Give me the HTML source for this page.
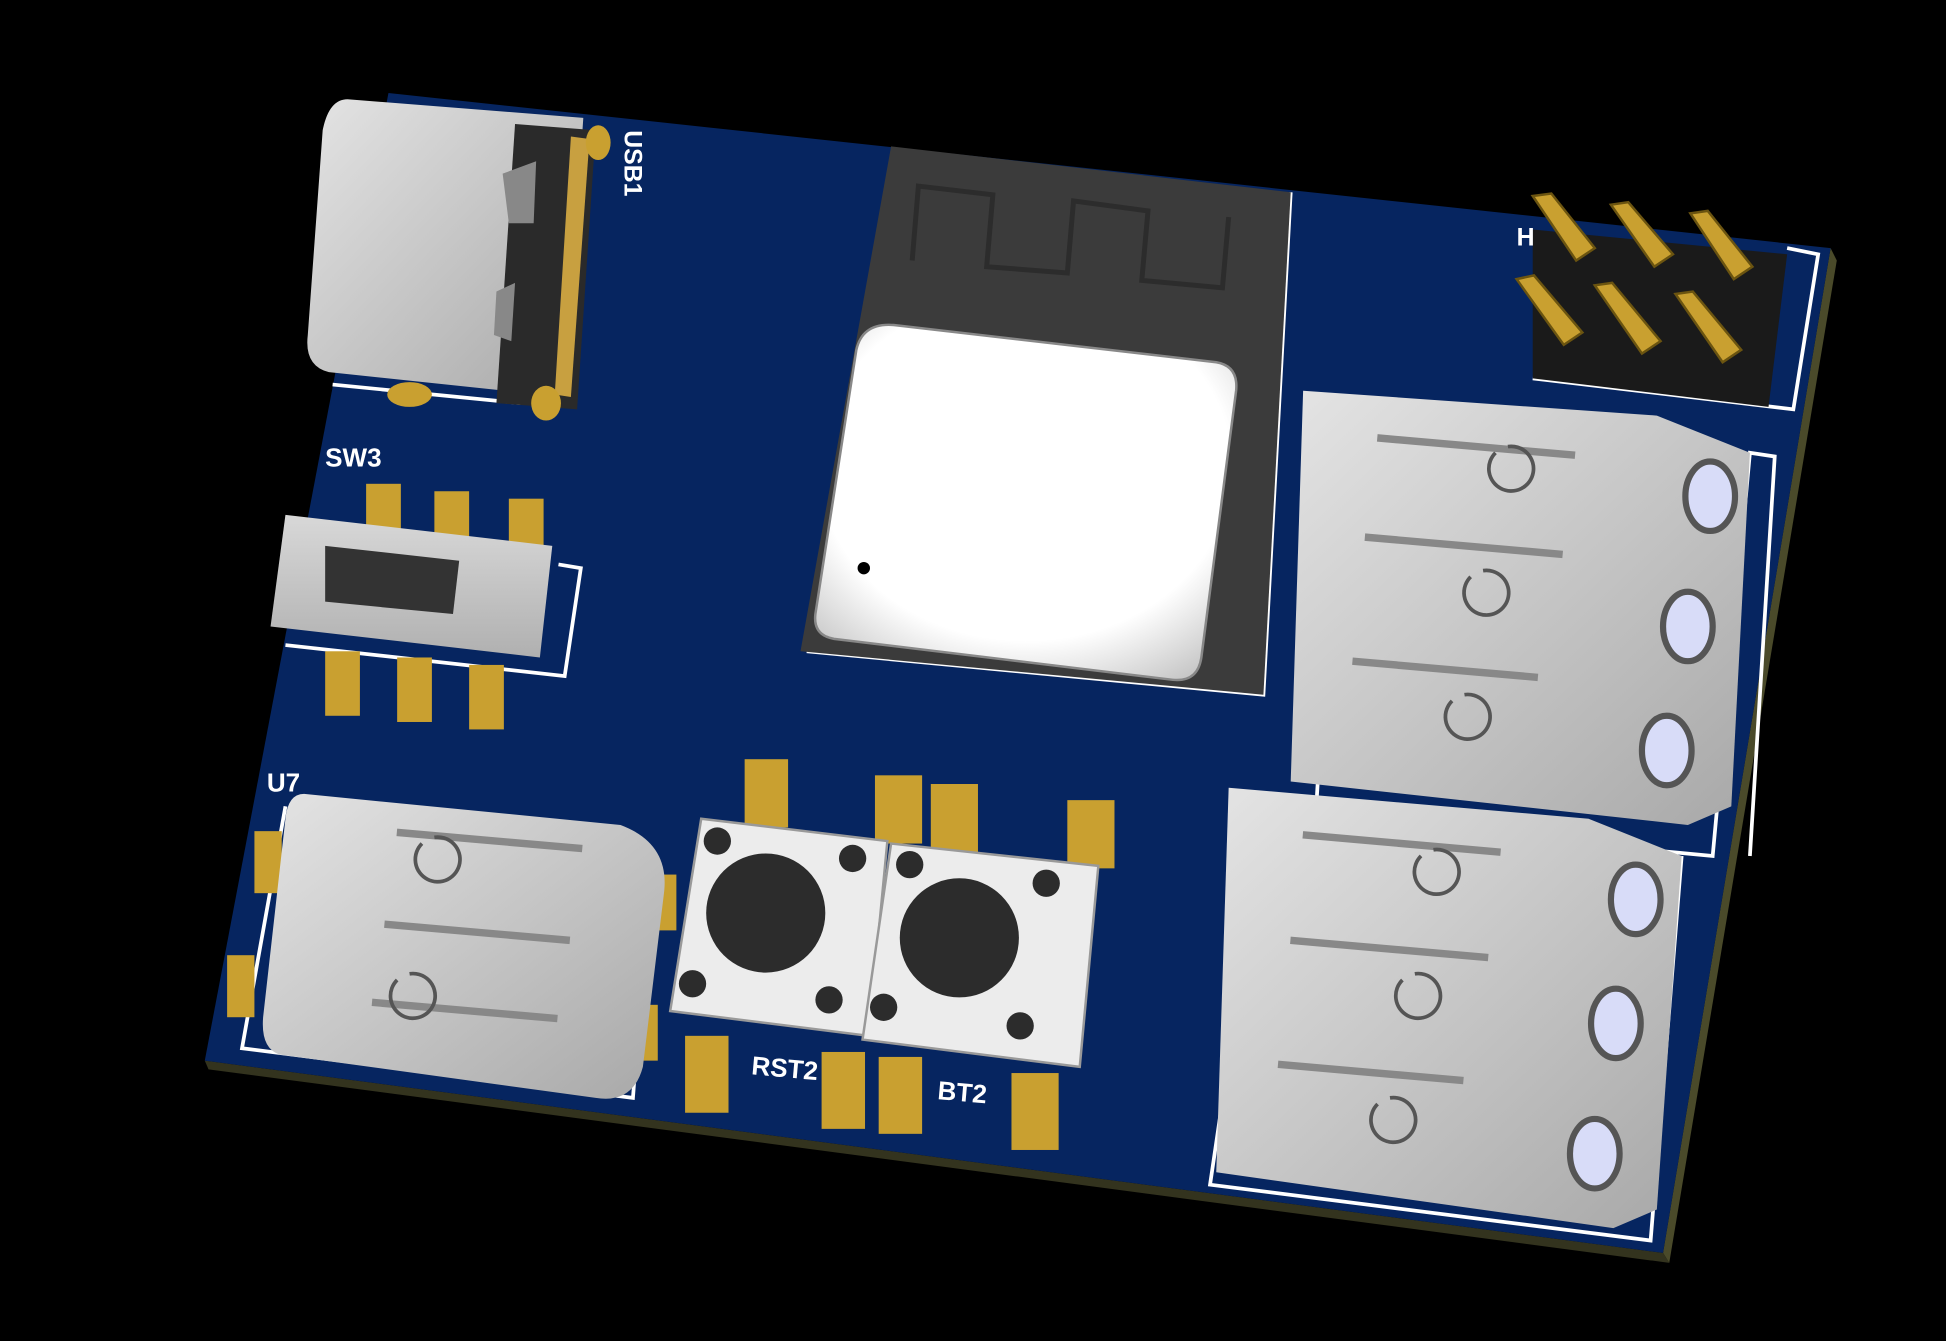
<!DOCTYPE html>
<html><head><meta charset="utf-8"><style>
html,body{margin:0;padding:0;background:#000;width:1946px;height:1341px;overflow:hidden}
svg{display:block}
text{font-family:"Liberation Sans",sans-serif;font-weight:bold;fill:#fff}
</style></head><body>
<svg width="1946" height="1341" viewBox="0 0 1568 1081" preserveAspectRatio="none">
<defs>
<linearGradient id="g1" x1="0" y1="0" x2="1" y2="1"><stop offset="0" stop-color="#e4e4e4"/><stop offset="1" stop-color="#a8a8a8"/></linearGradient>
<linearGradient id="g2" x1="0" y1="0" x2="0" y2="1"><stop offset="0" stop-color="#d8d8d8"/><stop offset="1" stop-color="#b0b0b0"/></linearGradient>
<radialGradient id="sh" cx="0.5" cy="0.4" r="0.7"><stop offset="0.7" stop-color="#ffffff"/><stop offset="1" stop-color="#c8c8c8"/></radialGradient>
</defs>
<rect width="1568" height="1081" fill="#000"/>
<!-- board edge -->
<polygon points="1475,200 1480,210 1345,1018 1340,1010" fill="#4a4a2a"/>
<polygon points="165,855 1340,1010 1345,1018 168,862" fill="#33331e"/>
<!-- board -->
<polygon points="313,75 1475,200 1340,1010 165,855" fill="#062560"/>
<!-- silkscreen outlines -->
<g fill="none" stroke="#fff" stroke-width="3">
<polyline points="1040,155 1018,560 650,525"/>
<polyline points="1440,200 1465,205 1445,330 1235,305"/>
<polyline points="1080,330 1060,660 1380,690 1410,365 1430,368 1410,690"/>
<polyline points="1020,650 975,955 1330,1000 1355,690"/>
<polyline points="230,650 195,845 510,885 525,690"/>
<polyline points="450,455 468,458 455,545 230,520"/>
<polyline points="268,310 420,325"/>
</g>
<!-- USB -->
<path d="M280,80 L470,95 L455,320 L265,300 Q245,295 248,270 L260,105 Q265,80 280,80Z" fill="url(#g1)"/>
<polygon points="415,100 480,105 465,330 400,325" fill="#2a2a2a"/>
<polygon points="460,110 475,112 460,320 447,318" fill="#c8a040"/>
<g fill="#c9a030">
<ellipse cx="482" cy="115" rx="10" ry="14"/><ellipse cx="440" cy="325" rx="12" ry="14"/><ellipse cx="330" cy="318" rx="18" ry="10"/>
</g>
<polygon points="405,140 432,130 430,180 410,180" fill="#888"/>
<polygon points="400,235 415,228 412,275 398,270" fill="#888"/>
<text x="0" y="0" font-size="20" transform="translate(503,105) rotate(90)">USB1</text>
<!-- SW3 -->
<text x="262" y="376" font-size="21">SW3</text>
<g fill="#c9a030">
<rect x="295" y="390" width="28" height="40"/><rect x="350" y="396" width="28" height="40"/><rect x="410" y="402" width="28" height="40"/>
<rect x="262" y="525" width="28" height="52"/><rect x="320" y="530" width="28" height="52"/><rect x="378" y="536" width="28" height="52"/>
</g>
<polygon points="230,415 445,440 435,530 218,505" fill="url(#g2)"/>
<polygon points="262,440 370,452 365,495 262,485" fill="#333"/>
<!-- ESP module -->
<polygon points="718,118 1040,155 1018,560 645,525" fill="#3b3b3b"/>
<path d="M720,262 L980,292 Q998,295 996,315 L968,530 Q965,550 945,548 L672,515 Q655,512 657,495 L690,282 Q695,260 720,262Z" fill="url(#sh)" stroke="#888" stroke-width="2"/>
<circle cx="696" cy="458" r="5" fill="#000"/>
<g fill="none" stroke="#2c2c2c" stroke-width="4"><polyline points="735,210 740,150 800,157 795,215 860,220 865,162 925,170 920,226 985,232 990,175"/></g>
<!-- header -->
<polygon points="1235,185 1440,205 1425,328 1235,305" fill="#1a1a1a"/>
<g fill="#c9a030" stroke="#6b5410" stroke-width="2">
<polygon points="1235,158 1250,156 1285,200 1270,210"/><polygon points="1298,165 1312,163 1348,205 1333,215"/><polygon points="1362,172 1376,170 1412,215 1397,225"/>
<polygon points="1222,225 1236,222 1275,268 1260,278"/><polygon points="1285,230 1299,228 1338,275 1323,285"/><polygon points="1350,237 1364,235 1403,282 1388,292"/>
</g>
<text x="1222" y="198" font-size="20">H</text>
<!-- right terminal blocks -->
<g>
<polygon points="1050,315 1335,335 1410,365 1395,650 1360,665 1040,630" fill="url(#g1)"/>
<g fill="#888"><rect x="1110" y="350" width="160" height="6" transform="rotate(5 1110 350)"/><rect x="1100" y="430" width="160" height="6" transform="rotate(5 1100 430)"/><rect x="1090" y="530" width="150" height="6" transform="rotate(5 1090 530)"/></g>
<g fill="#d8dcf8" stroke="#555" stroke-width="5"><ellipse cx="1378" cy="400" rx="20" ry="28"/><ellipse cx="1360" cy="505" rx="20" ry="28"/><ellipse cx="1343" cy="605" rx="20" ry="28"/></g>
<polygon points="990,635 1280,660 1355,690 1335,975 1300,990 980,945" fill="url(#g1)"/>
<g fill="#888"><rect x="1050" y="670" width="160" height="6" transform="rotate(5 1050 670)"/><rect x="1040" y="755" width="160" height="6" transform="rotate(5 1040 755)"/><rect x="1030" y="855" width="150" height="6" transform="rotate(5 1030 855)"/></g>
<g fill="#d8dcf8" stroke="#555" stroke-width="5"><ellipse cx="1318" cy="725" rx="20" ry="28"/><ellipse cx="1302" cy="825" rx="20" ry="28"/><ellipse cx="1285" cy="930" rx="20" ry="28"/></g>
<g fill="none" stroke="#555" stroke-width="3"><path d="M1205,365 a18,18 0 1 0 10,-5"/><path d="M1185,465 a18,18 0 1 0 10,-5"/><path d="M1170,565 a18,18 0 1 0 10,-5"/><path d="M1145,690 a18,18 0 1 0 10,-5"/><path d="M1130,790 a18,18 0 1 0 10,-5"/><path d="M1110,890 a18,18 0 1 0 10,-5"/></g>
</g>
<!-- U7 -->
<text x="215" y="638" font-size="21">U7</text>
<g fill="#c9a030"><rect x="205" y="670" width="22" height="50"/><rect x="183" y="770" width="22" height="50"/><rect x="525" y="705" width="20" height="45"/><rect x="510" y="810" width="20" height="45"/></g>
<path d="M245,640 L500,665 Q540,680 535,720 L518,860 Q510,890 480,885 L225,850 Q210,845 212,820 L230,660 Q232,640 245,640Z" fill="url(#g1)"/>
<g fill="#888"><rect x="320" y="668" width="150" height="6" transform="rotate(5 320 668)"/><rect x="310" y="742" width="150" height="6" transform="rotate(5 310 742)"/><rect x="300" y="805" width="150" height="6" transform="rotate(5 300 805)"/></g>
<g fill="none" stroke="#555" stroke-width="3"><path d="M340,680 a18,18 0 1 0 10,-5"/><path d="M320,790 a18,18 0 1 0 10,-5"/></g>
<!-- buttons -->
<g fill="#c9a030">
<rect x="600" y="612" width="35" height="55"/><rect x="705" y="625" width="38" height="55"/><rect x="750" y="632" width="38" height="55"/><rect x="860" y="645" width="38" height="55"/>
<rect x="552" y="835" width="35" height="62"/><rect x="662" y="848" width="35" height="62"/><rect x="708" y="852" width="35" height="62"/><rect x="815" y="865" width="38" height="62"/>
</g>
<polygon points="565,660 715,678 700,835 540,815" fill="#ececec" stroke="#999" stroke-width="2"/>
<polygon points="718,680 885,698 870,860 695,838" fill="#ececec" stroke="#999" stroke-width="2"/>
<circle cx="617" cy="736" r="48" fill="#2c2c2c"/><circle cx="773" cy="756" r="48" fill="#2c2c2c"/>
<g fill="#2c2c2c"><circle cx="578" cy="678" r="11"/><circle cx="687" cy="692" r="11"/><circle cx="558" cy="793" r="11"/><circle cx="668" cy="806" r="11"/>
<circle cx="733" cy="697" r="11"/><circle cx="843" cy="712" r="11"/><circle cx="712" cy="812" r="11"/><circle cx="822" cy="827" r="11"/></g>
<text x="605" y="866" font-size="21" transform="rotate(5 605 866)">RST2</text>
<text x="755" y="886" font-size="21" transform="rotate(5 755 886)">BT2</text>
</svg>
</body></html>
